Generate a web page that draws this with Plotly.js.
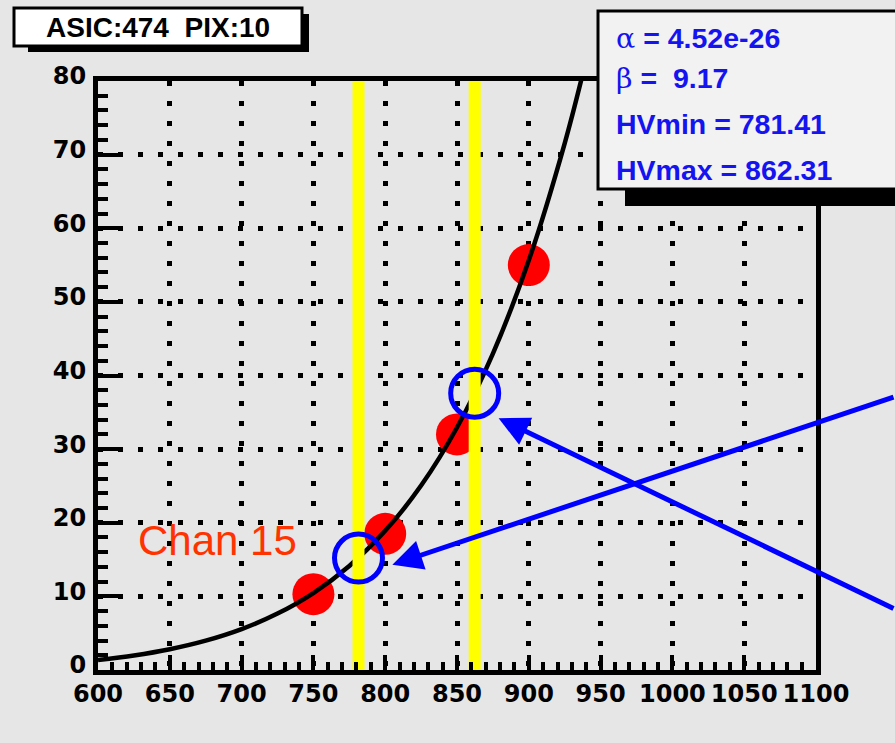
<!DOCTYPE html>
<html>
<head>
<meta charset="utf-8">
<script src="https://cdn.plot.ly/plotly-3.0.1.min.js"></script>
<style>html,body{margin:0;padding:0;background:#e6e6e6;}#chart{width:895px;height:743px;}</style>
</head>
<body>
<div id="chart"></div>
<script>
// ---- data ----
const measHV = [750, 800, 850, 900];
const measGain = [10.3, 18.5, 32.0, 55.0];

const fitHV = [600, 625, 650, 675, 700, 725, 750, 775, 800, 825, 850, 875, 900, 925, 940];
const fitGain = [1.35, 1.97, 2.82, 3.98, 5.55, 7.66, 10.45, 14.12, 18.9, 25.05, 32.94, 42.98, 55.65, 71.54, 82.9];

const hvLimits = [781.41, 862.31];
const gainAtLimits = [15.2, 37.6];

const arrowTipHV = [805, 879];
const arrowTipGain = [14.3, 34.2];

const titleText = 'ASIC:474  PIX:10';
const statLines = [
  '<span style="font-weight:normal;font-family:\'DejaVu Serif\'">α</span> = 4.52e-26',
  '<span style="font-weight:normal;font-family:\'DejaVu Serif\'">β</span> =  9.17',
  'HVmin = 781.41',
  'HVmax = 862.31'
];
const chanLabel = 'Chan 15';

// ---- layout helpers (pixel -> paper) ----
const W = 895, H = 743, L = 98, R = 79, T = 81, B = 73;
const PW = W - L - R, PH = H - T - B;
const px = x => (x - L) / PW;
const py = y => (H - B - y) / PH;

const BLUE = '#1414f0';

const traces = [
  { x: measHV, y: measGain, mode: 'markers', type: 'scatter',
    marker: { color: '#ff0000', size: 42, line: { width: 0 } }, hoverinfo: 'skip' },
  { x: fitHV, y: fitGain, mode: 'lines', type: 'scatter',
    line: { color: '#000000', width: 4.5, shape: 'spline' }, hoverinfo: 'skip' },
  { x: [hvLimits[0], hvLimits[0]], y: [0, 80], mode: 'lines', type: 'scatter',
    line: { color: '#ffff00', width: 12 }, hoverinfo: 'skip' },
  { x: [hvLimits[1], hvLimits[1]], y: [0, 80], mode: 'lines', type: 'scatter',
    line: { color: '#ffff00', width: 12 }, hoverinfo: 'skip' },
  { x: hvLimits, y: gainAtLimits, mode: 'markers', type: 'scatter',
    marker: { symbol: 'circle-open', size: 48, color: '#0000ff', line: { width: 5, color: '#0000ff' } },
    hoverinfo: 'skip' }
];

const tickFont = { family: 'DejaVu Sans, sans-serif', size: 24, color: '#000', weight: 'bold' };

const shapes = [
  // title box shadow + box
  { type: 'rect', xref: 'paper', yref: 'paper', x0: px(28), x1: px(309), y0: py(52), y1: py(14),
    fillcolor: '#000', line: { width: 0 }, layer: 'above' },
  { type: 'rect', xref: 'paper', yref: 'paper', x0: px(14), x1: px(302), y0: py(46), y1: py(8),
    fillcolor: '#ffffff', line: { color: '#000', width: 3 }, layer: 'above' },
  // stats box shadow + box
  { type: 'rect', xref: 'paper', yref: 'paper', x0: px(625), x1: px(905), y0: py(206), y1: py(20),
    fillcolor: '#000', line: { width: 0 }, layer: 'above' },
  { type: 'rect', xref: 'paper', yref: 'paper', x0: px(598), x1: px(905), y0: py(189), y1: py(11),
    fillcolor: '#f2f2f2', line: { color: '#000', width: 3 }, layer: 'above' }
];

const statY = [38, 79, 124, 170];
const annotations = [
  { xref: 'paper', yref: 'paper', x: px(158), y: py(27), text: titleText, showarrow: false,
    xanchor: 'center', yanchor: 'middle',
    font: { family: 'Liberation Sans, Arial, sans-serif', size: 28, color: '#000', weight: 'bold' } },
  { xref: 'x', yref: 'y', x: 683, y: 17.6, text: chanLabel, showarrow: false,
    xanchor: 'center', yanchor: 'middle',
    font: { family: 'Liberation Sans, Arial, sans-serif', size: 42, color: '#ff3300' } },
  { xref: 'x', yref: 'y', x: arrowTipHV[0], y: arrowTipGain[0], axref: 'pixel', ayref: 'pixel',
    ax: 508, ay: -168, text: '', showarrow: true, arrowhead: 2, arrowsize: 1.2, arrowwidth: 5,
    arrowcolor: '#0000ff', standoff: 0 },
  { xref: 'x', yref: 'y', x: arrowTipHV[1], y: arrowTipGain[1], axref: 'pixel', ayref: 'pixel',
    ax: 402, ay: 191, text: '', showarrow: true, arrowhead: 2, arrowsize: 1.2, arrowwidth: 5,
    arrowcolor: '#0000ff', standoff: 0 }
];
statLines.forEach((t, i) => annotations.push({
  xref: 'paper', yref: 'paper', x: px(614), y: py(statY[i]), text: t, showarrow: false,
  xanchor: 'left', yanchor: 'middle',
  font: { family: 'Liberation Sans, Arial, sans-serif', size: 28.5, color: BLUE, weight: 'bold' }
}));

const layout = {
  width: W, height: H,
  margin: { l: L, r: R, t: T, b: B, pad: 0 },
  paper_bgcolor: '#e6e6e6', plot_bgcolor: '#e6e6e6',
  showlegend: false,
  xaxis: {
    range: [600, 1100], tick0: 600, dtick: 50, ticks: 'inside', ticklen: 15, tickwidth: 4, tickcolor: '#000',
    showline: true, linecolor: '#000', linewidth: 5, mirror: true, zeroline: false,
    showgrid: true, gridcolor: '#000', gridwidth: 5, griddash: '5px,15px',
    tickfont: tickFont, ticklabelstandoff: -2,
    minor: { dtick: 10, ticks: 'inside', ticklen: 8, tickwidth: 4, tickcolor: '#000', showgrid: false }
  },
  yaxis: {
    range: [0, 80], tick0: 0, dtick: 10, ticks: 'inside', ticklen: 22, tickwidth: 4, tickcolor: '#000',
    showline: true, linecolor: '#000', linewidth: 5, mirror: true, zeroline: false,
    showgrid: true, gridcolor: '#000', gridwidth: 5, griddash: '5px,15px',
    tickfont: tickFont, ticklabelstandoff: 2, ticklabelshift: -5,
    minor: { dtick: 2, ticks: 'inside', ticklen: 10, tickwidth: 4, tickcolor: '#000', showgrid: false }
  },
  shapes: shapes,
  annotations: annotations
};

Plotly.newPlot('chart', traces, layout, { staticPlot: true, displayModeBar: false });
</script>
</body>
</html>
